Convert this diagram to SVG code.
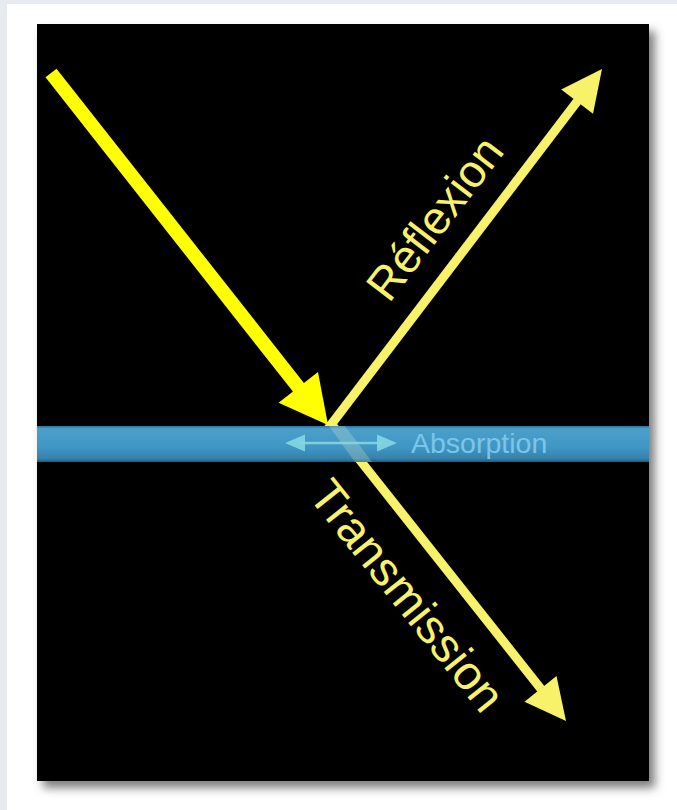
<svg xmlns="http://www.w3.org/2000/svg" width="677" height="810" viewBox="0 0 677 810">
  <defs>
    <filter id="shadow" x="-10%" y="-10%" width="125%" height="125%">
      <feDropShadow dx="6" dy="7" stdDeviation="5" flood-color="#555" flood-opacity="0.75"/>
    </filter>
    <linearGradient id="bandGrad" x1="0" y1="0" x2="0" y2="1">
      <stop offset="0" stop-color="#2f739a"/>
      <stop offset="0.08" stop-color="#4a9fcb"/>
      <stop offset="0.6" stop-color="#4096c3"/>
      <stop offset="0.9" stop-color="#3682ad"/>
      <stop offset="1" stop-color="#24597a"/>
    </linearGradient>
    <style>
      .yel { fill: #f8f26a; }
      .yelS { stroke: #f8f26a; stroke-width: 9; fill: none; }
      .lbl { font-family: "Liberation Sans", Arial, sans-serif; }
    </style>
  </defs>

  <!-- page background -->
  <rect x="0" y="0" width="677" height="810" fill="#e7eaee"/>
  <rect x="7" y="4" width="670" height="806" fill="#ffffff"/>

  <!-- black panel -->
  <rect x="37" y="24" width="612" height="757" fill="#000" filter="url(#shadow)"/>

  <g id="connectors">
    <!-- reflected shaft -->
    <line class="yelS" x1="327" y1="430" x2="577.5" y2="101"/>
    <!-- transmitted shaft -->
    <line class="yelS" x1="329" y1="421" x2="541" y2="689"/>
  </g>

  <!-- medium (absorbing layer) -->
  <g id="layer">
    <rect x="37" y="426" width="612" height="36" fill="url(#bandGrad)"/>
    <!-- translucent trace of transmitted beam through layer -->
    <polygon points="329,426 345,426 372,462 355,462" fill="#cfe6c8" opacity="0.28"/>
  </g>

  <g id="incident">
    <line x1="51" y1="73" x2="299" y2="388" stroke="#ffff00" stroke-width="14"/>
    <polygon points="328,425 278.6,402.8 318,371.9" fill="#ffff00"/>
  </g>

  <g id="reflexion">
    <polygon class="yel" points="602,69 593,113.7 561.2,89.5"/>
    <text class="lbl" transform="translate(389,304) rotate(-52.6)" font-size="46" fill="#f8f26a">Réflexion</text>
  </g>

  <g id="transmission">
    <polygon class="yel" points="566,721 524.5,701.7 556.5,676.1"/>
    <text class="lbl" transform="translate(307,496) rotate(51.4)" font-size="47.5" fill="#f8f26a">Transmission</text>
  </g>

  <g id="absorption">
    <line x1="300" y1="443" x2="382" y2="443" stroke="#86d6e2" stroke-width="2.5" opacity="0.9"/>
    <polygon points="285,443 305,434.5 305,451.5" fill="#86d6e2" opacity="0.9"/>
    <polygon points="397,443 377,434.5 377,451.5" fill="#86d6e2" opacity="0.9"/>
    <text class="lbl" x="411" y="453" font-size="28.5" fill="#7ac6ea">Absorption</text>
  </g>
</svg>
